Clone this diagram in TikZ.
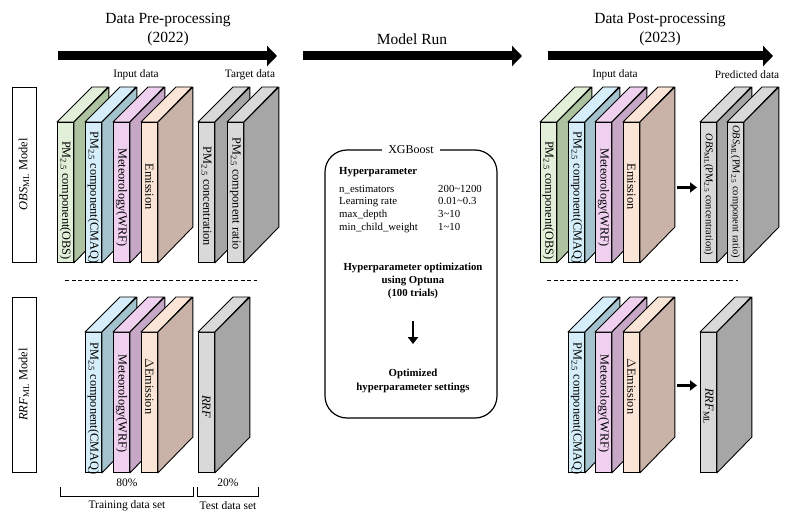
\documentclass[tikz,border=0pt]{standalone}
\usepackage{fontspec}
\setmainfont{Liberation Serif}
\usetikzlibrary{arrows.meta}

\definecolor{greenF}{HTML}{E2F0D9}
\definecolor{greenS}{HTML}{ADC29F}
\definecolor{cyanF}{HTML}{D5EEF9}
\definecolor{cyanS}{HTML}{A4C3CF}
\definecolor{pinkF}{HTML}{EFD0EF}
\definecolor{pinkS}{HTML}{C6A8C6}
\definecolor{peachF}{HTML}{FBE5D6}
\definecolor{peachS}{HTML}{C9B2A7}
\definecolor{grayF}{HTML}{D9D9D9}
\definecolor{grayS}{HTML}{A6A6A6}

% one data slab: name, x, y (front top), front colour, side colour, text, text shift
\newcommand{\slab}[7]{%
  \node[face, fill=#4, anchor=north west] (#1) at (#2,#3) {};
  \filldraw[slabline, fill=#4] (#1.north west) -- ++(35,-35) -- ++(16,0) -- (#1.north east) -- cycle;
  \filldraw[slabline, fill=#5] (#1.north east) -- ++(35,-35) -- ++(0,140) -- (#1.south east) -- cycle;
  \node[facetext] (#1t) at ([yshift=#7]#1.center) {\rotatebox{-90}{#6}};
}

\begin{document}
\begin{tikzpicture}[
x=1pt, y=-1pt,
face/.style={draw, line width=0.9pt, minimum width=16pt, minimum height=140pt, inner sep=0pt},
slabline/.style={line width=0.9pt, line join=round},
facetext/.style={inner sep=0pt, font=\fontsize{12.3}{14}\selectfont},
smalltext/.style={inner sep=0pt, font=\fontsize{11.3}{13}\selectfont},
head/.style={align=center, inner sep=0pt, font=\fontsize{15.5}{19}\selectfont},
sidebox/.style={draw, line width=0.7pt, minimum width=24pt, minimum height=175pt, inner sep=0pt, font=\fontsize{12.5}{15}\selectfont},
bigarrow/.style={line width=9pt, -{Triangle[length=10pt, width=20pt]}},
smallarr/.style={line width=2.4pt, -{Triangle[length=7pt, width=10pt]}},
sepline/.style={line width=0.9pt, dash pattern=on 4pt off 2.5pt},
bracket/.style={line width=0.9pt},
xgbox/.style={draw, line width=1.2pt, rounded corners=22pt, minimum width=172pt, minimum height=268pt}
]
\useasboundingbox (0,0) rectangle (800,524);

% stage headers
\node[head] (pre) at (168,29.5) {Data Pre-processing\\(2022)};
\node[head] (run) at (412,39) {Model Run};
\node[head] (post) at (660,29.5) {Data Post-processing\\(2023)};
\coordinate (preS) at (58,56);
\coordinate (preE) at (277,56);
\coordinate (runS) at (303,56);
\coordinate (runE) at (522,56);
\coordinate (postS) at (548,56);
\coordinate (postE) at (773,56);
\draw[bigarrow] (preS) -- (preE);
\draw[bigarrow] (runS) -- (runE);
\draw[bigarrow] (postS) -- (postE);

% model labels
\node[sidebox] (obsbox) at (24,174.5) {\rotatebox{90}{\textit{OBS}\textsubscript{ML} Model}};
\node[sidebox] (rrfbox) at (24,384.5) {\rotatebox{90}{\textit{RRF}\textsubscript{ML} Model}};

% pre-processing, OBS model
\node[smalltext] (inL) at (136,75) {Input data};
\node[smalltext] (tgL) at (250,75) {Target data};
\slab{obsA}{57}{122}{greenF}{greenS}{PM\textsubscript{2.5} component(OBS)}{-8pt}
\slab{obsB}{85}{122}{cyanF}{cyanS}{PM\textsubscript{2.5} component(CMAQ)}{-5pt}
\slab{obsC}{113}{122}{pinkF}{pinkS}{Meteorology(WRF)}{-5pt}
\slab{obsD}{141}{122}{peachF}{peachS}{Emission}{6pt}
\slab{obsE}{198}{122}{grayF}{grayS}{PM\textsubscript{2.5} concentration}{-4pt}
\slab{obsF}{227}{122}{grayF}{grayS}{PM\textsubscript{2.5} component ratio}{-1pt}

\coordinate (dlA) at (65,280);
\coordinate (dlB) at (257,280);
\draw[sepline] (dlA) -- (dlB);

% pre-processing, RRF model
\slab{rrfB}{85}{332}{cyanF}{cyanS}{PM\textsubscript{2.5} component(CMAQ)}{-6pt}
\slab{rrfC}{113}{332}{pinkF}{pinkS}{Meteorology(WRF)}{-1pt}
\slab{rrfD}{141}{332}{peachF}{peachS}{$\Delta$Emission}{16pt}
\slab{rrfE}{198}{332}{grayF}{grayS}{\textit{RRF}}{-4pt}

\coordinate (trA) at (60,487);
\coordinate (trB) at (193,487);
\coordinate (teA) at (197,487);
\coordinate (teB) at (258,487);
\draw[bracket] (trA) -- ++(0,9) -| (trB);
\draw[bracket] (teA) -- ++(0,9) -| (teB);
\node[smalltext, font=\fontsize{11.5}{13}\selectfont] (trP) at (127,483) {80\%};
\node[smalltext, font=\fontsize{11.5}{13}\selectfont] (teP) at (228,483) {20\%};
\node[smalltext, font=\fontsize{11.5}{13}\selectfont] (trL) at (127,506) {Training data set};
\node[smalltext, font=\fontsize{11.5}{13}\selectfont] (teL) at (228,506) {Test data set};

% model run
\node[xgbox] (xgb) at (411,284) {};
\node[fill=white, inner xsep=6pt, inner ysep=1pt, font=\fontsize{12}{14}\selectfont] (xgbT) at (xgb.north) {XGBoost};
\node[smalltext, anchor=west, font=\fontsize{10.8}{12.5}\bfseries] (hpT) at (339,172) {Hyperparameter};
\node[smalltext, anchor=north west, font=\fontsize{10.8}{12.7}\selectfont] (hpV) at (339,183) {%
  \begin{tabular}{@{}p{99pt}@{}l@{}}
  n\_estimators & 200\textasciitilde1200\\
  Learning rate & 0.01\textasciitilde0.3\\
  max\_depth & 3\textasciitilde10\\
  min\_child\_weight & 1\textasciitilde10
  \end{tabular}};
\node[smalltext, align=center, font=\fontsize{10.8}{12.6}\bfseries] (opt) at (413,281) {Hyperparameter optimization\\using Optuna\\(100 trials)};
\node[smalltext, align=center, font=\fontsize{10.8}{13.5}\bfseries] (best) at (413,381) {Optimized\\hyperparameter settings};
\draw[smallarr, shorten <=22pt, shorten >=25pt] (opt.south) -- (best.north);

% post-processing, OBS model
\node[smalltext] (inR) at (615,75) {Input data};
\node[smalltext] (pdR) at (747,75) {Predicted data};
\slab{postA}{540}{122}{greenF}{greenS}{PM\textsubscript{2.5} component(OBS)}{-8pt}
\slab{postB}{568}{122}{cyanF}{cyanS}{PM\textsubscript{2.5} component(CMAQ)}{-5pt}
\slab{postC}{595}{122}{pinkF}{pinkS}{Meteorology(WRF)}{-5pt}
\slab{postD}{623}{122}{peachF}{peachS}{Emission}{6pt}
\slab{postE}{700}{122}{grayF}{grayS}{\fontsize{10.4}{12}\selectfont\textit{OBS}\textsubscript{ML}(PM\textsubscript{2.5} concentration)}{-2pt}
\slab{postF}{727}{122}{grayF}{grayS}{\fontsize{10.4}{12}\selectfont\textit{OBS}\textsubscript{ML}(PM\textsubscript{2.5} component ratio)}{1pt}
\draw[smallarr] ([xshift=37pt, yshift=5pt]postD.east) -- ([xshift=-3pt, yshift=5pt]postE.west);

\coordinate (drA) at (547,280);
\coordinate (drB) at (738,280);
\draw[sepline] (drA) -- (drB);

% post-processing, RRF model
\slab{postH}{568}{332}{cyanF}{cyanS}{PM\textsubscript{2.5} component(CMAQ)}{-6pt}
\slab{postI}{595}{332}{pinkF}{pinkS}{Meteorology(WRF)}{-1pt}
\slab{postJ}{623}{332}{peachF}{peachS}{$\Delta$Emission}{16pt}
\slab{postK}{700}{332}{grayF}{grayS}{\textit{RRF}\textsubscript{ML}}{-4pt}
\draw[smallarr] ([xshift=37pt, yshift=17pt]postJ.east) -- ([xshift=-3pt, yshift=17pt]postK.west);

\end{tikzpicture}
\end{document}
